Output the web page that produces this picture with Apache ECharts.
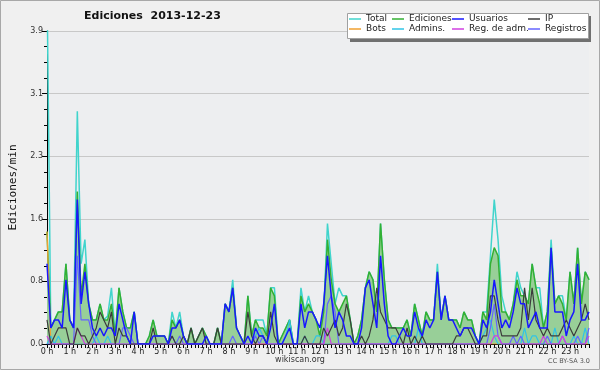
<!DOCTYPE html>
<html>
<head>
<meta charset="utf-8">
<script src="https://cdn.jsdelivr.net/npm/echarts@6/dist/echarts.min.js"></script>
<style>
  html, body { margin: 0; padding: 0; background: #f0f0f0; }
  #chart { width: 600px; height: 370px; }
</style>
</head>
<body>
<div id="chart"></div>
<script>
// one value every 10 minutes, edits per minute
const total = [
  4.5, 0.2, 0.3, 0.4, 0.4, 1.0, 0.3, 0.2, 2.9, 1.0, 1.3, 0.5,
  0.3, 0.3, 0.5, 0.3, 0.35, 0.7, 0.1, 0.7, 0.4, 0.2, 0.2, 0.4,
  0, 0, 0, 0.1, 0.3, 0.1, 0.1, 0.1, 0, 0.4, 0.2, 0.4,
  0.1, 0, 0.2, 0, 0.1, 0.2, 0.1, 0, 0, 0.2, 0, 0.5,
  0.4, 0.8, 0.2, 0.1, 0, 0.6, 0.1, 0.3, 0.3, 0.3, 0.1, 0.7,
  0.7, 0, 0.1, 0.2, 0.3, 0, 0, 0.7, 0.4, 0.6, 0.4, 0.3,
  0.1, 0.4, 1.5, 1.0, 0.5, 0.7, 0.6, 0.6, 0.3, 0, 0.1, 0.3,
  0.7, 0.9, 0.8, 0.4, 1.5, 0.8, 0.3, 0.2, 0.2, 0.2, 0.2, 0.3,
  0.1, 0.5, 0.3, 0.1, 0.4, 0.3, 0.3, 1.0, 0.3, 0.6, 0.3, 0.3,
  0.3, 0.2, 0.4, 0.3, 0.3, 0.1, 0, 0.4, 0.4, 1.1, 1.8, 1.3,
  0.6, 0.4, 0.3, 0.5, 0.9, 0.7, 0.6, 0.5, 1.0, 0.7, 0.7, 0.2,
  0.4, 1.3, 0.5, 0.6, 0.6, 0.3, 0.9, 0.5, 1.2, 0.5, 0.9, 0.8
];
const ediciones = [
  1.4, 0.2, 0.3, 0.4, 0.4, 1.0, 0.3, 0.2, 1.9, 0.6, 1.0, 0.5,
  0.3, 0.3, 0.5, 0.3, 0.3, 0.5, 0.1, 0.7, 0.4, 0.2, 0.2, 0.4,
  0, 0, 0, 0.1, 0.3, 0.1, 0.1, 0.1, 0, 0.3, 0.2, 0.3,
  0.1, 0, 0.2, 0, 0.1, 0.2, 0.1, 0, 0, 0.2, 0, 0.5,
  0.4, 0.7, 0.2, 0.1, 0, 0.6, 0.1, 0.3, 0.2, 0.2, 0.1, 0.7,
  0.6, 0, 0.1, 0.2, 0.3, 0, 0, 0.6, 0.4, 0.5, 0.4, 0.3,
  0.1, 0.4, 1.3, 0.8, 0.5, 0.4, 0.5, 0.6, 0.3, 0, 0.1, 0.3,
  0.7, 0.9, 0.8, 0.4, 1.5, 0.8, 0.3, 0.2, 0.2, 0.2, 0.2, 0.3,
  0.1, 0.5, 0.3, 0.1, 0.4, 0.3, 0.3, 0.9, 0.3, 0.6, 0.3, 0.3,
  0.3, 0.2, 0.4, 0.3, 0.3, 0.1, 0, 0.4, 0.3, 1.0, 1.2, 1.1,
  0.4, 0.4, 0.3, 0.5, 0.8, 0.6, 0.6, 0.5, 1.0, 0.7, 0.5, 0.2,
  0.4, 1.2, 0.5, 0.6, 0.5, 0.3, 0.9, 0.5, 1.2, 0.5, 0.9, 0.8
];
const usuarios = [
  1.0, 0.2, 0.3, 0.3, 0.2, 0.8, 0.3, 0.2, 1.8, 0.5, 0.9, 0.5,
  0.2, 0.1, 0.2, 0.1, 0.2, 0.2, 0.1, 0.5, 0.3, 0.1, 0, 0.4,
  0, 0, 0, 0, 0.1, 0.1, 0.1, 0.1, 0, 0.2, 0.2, 0.3,
  0.1, 0, 0, 0, 0, 0, 0.1, 0, 0, 0, 0, 0.5,
  0.4, 0.7, 0.2, 0.1, 0, 0.1, 0, 0.2, 0.1, 0.1, 0, 0.2,
  0.5, 0, 0, 0.1, 0.2, 0, 0, 0.5, 0.2, 0.4, 0.4, 0.3,
  0.2, 0.5, 1.1, 0.6, 0.2, 0.4, 0.3, 0.1, 0.1, 0, 0, 0.2,
  0.7, 0.8, 0.5, 0.2, 1.1, 0.5, 0.1, 0, 0, 0.1, 0.2, 0.1,
  0.1, 0.4, 0.2, 0.1, 0.3, 0.2, 0.3, 0.9, 0.3, 0.6, 0.3, 0.3,
  0.2, 0.1, 0.2, 0.2, 0.2, 0.1, 0, 0.3, 0.2, 0.4, 0.8, 0.5,
  0.2, 0.3, 0.2, 0.4, 0.7, 0.5, 0.5, 0.2, 0.3, 0.4, 0.2, 0.2,
  0.2, 1.2, 0.4, 0.4, 0.4, 0.1, 0.3, 0.4, 1.0, 0.3, 0.3, 0.4
];
const ip = [
  0.3, 0, 0.1, 0.2, 0.2, 0.2, 0, 0, 0.2, 0.1, 0.1, 0,
  0.1, 0.2, 0.4, 0.3, 0.2, 0.4, 0, 0.2, 0.1, 0.1, 0, 0,
  0, 0, 0, 0, 0.2, 0, 0, 0, 0, 0.1, 0, 0,
  0.1, 0, 0.2, 0, 0.1, 0.2, 0, 0, 0, 0.2, 0, 0,
  0, 0, 0, 0, 0, 0.4, 0.1, 0, 0.1, 0.1, 0, 0.4,
  0.1, 0, 0, 0, 0, 0, 0, 0, 0.1, 0, 0, 0,
  0, 0.2, 0.1, 0.2, 0.3, 0.1, 0.2, 0.5, 0.3, 0, 0, 0.1,
  0, 0.1, 0.3, 0.7, 0.4, 0.3, 0.2, 0.2, 0.2, 0.1, 0, 0.2,
  0, 0.1, 0, 0.1, 0, 0, 0, 0, 0, 0, 0, 0,
  0.1, 0.1, 0.2, 0.2, 0.1, 0, 0, 0.1, 0.1, 0.6, 0.6, 0.3,
  0.1, 0.1, 0.1, 0.1, 0.1, 0.2, 0.7, 0.3, 0.7, 0.3, 0.2, 0.1,
  0.2, 0.1, 0.1, 0.1, 0.2, 0.3, 0.2, 0.1, 0.2, 0.3, 0.5, 0.3
];
const bots = [
  1.4, 0, 0, 0, 0, 0, 0, 0, 0, 0, 0, 0,
  0, 0, 0, 0, 0, 0, 0, 0, 0, 0, 0, 0,
  0, 0, 0, 0, 0, 0, 0, 0, 0, 0, 0, 0,
  0, 0, 0, 0, 0, 0, 0, 0, 0, 0, 0, 0,
  0, 0, 0, 0, 0, 0, 0, 0, 0, 0, 0, 0,
  0, 0, 0, 0, 0, 0, 0, 0, 0, 0, 0, 0,
  0, 0, 0, 0, 0, 0, 0, 0, 0, 0, 0, 0,
  0, 0, 0, 0, 0, 0, 0, 0, 0, 0, 0, 0,
  0, 0, 0, 0, 0, 0, 0, 0, 0, 0, 0, 0,
  0, 0, 0, 0, 0, 0, 0, 0, 0, 0, 0, 0,
  0, 0, 0, 0, 0, 0, 0, 0, 0, 0, 0, 0,
  0, 0, 0, 0, 0, 0, 0, 0, 0, 0, 0, 0
];
const admins = [
  0, 0.1, 0, 0.1, 0, 0, 0, 0, 0, 0, 0, 0,
  0, 0.1, 0, 0, 0.1, 0, 0, 0, 0, 0, 0, 0,
  0, 0, 0, 0, 0, 0, 0, 0, 0, 0, 0, 0,
  0, 0, 0, 0, 0, 0, 0, 0, 0, 0, 0, 0,
  0, 0, 0, 0, 0, 0, 0, 0.1, 0.2, 0.1, 0, 0,
  0, 0, 0, 0.1, 0.3, 0, 0, 0, 0.1, 0, 0, 0.1,
  0.1, 0, 0, 0, 0, 0, 0, 0, 0, 0, 0, 0,
  0, 0, 0, 0, 0, 0, 0, 0.1, 0.1, 0, 0, 0,
  0, 0, 0.2, 0, 0, 0, 0, 0, 0, 0, 0, 0,
  0, 0, 0, 0, 0, 0, 0, 0.1, 0.2, 0.3, 0.1, 0,
  0, 0, 0, 0, 0, 0, 0.2, 0, 0.1, 0.1, 0, 0,
  0, 0, 0.2, 0, 0, 0, 0, 0.1, 0, 0, 0.2, 0
];
const regAdm = [
  0.1, 0, 0, 0, 0, 0, 0, 0, 0.2, 0.1, 0, 0,
  0, 0, 0, 0, 0, 0, 0, 0, 0, 0, 0, 0,
  0, 0, 0, 0, 0, 0, 0, 0, 0, 0, 0, 0,
  0, 0, 0, 0, 0, 0, 0, 0, 0, 0, 0, 0,
  0, 0, 0, 0, 0, 0, 0, 0, 0, 0, 0, 0,
  0, 0, 0, 0, 0, 0, 0, 0, 0, 0, 0, 0,
  0, 0, 0.2, 0, 0, 0, 0, 0, 0, 0, 0, 0,
  0, 0, 0, 0, 0, 0, 0, 0, 0, 0, 0, 0,
  0, 0, 0, 0, 0, 0, 0, 0, 0, 0, 0, 0,
  0, 0, 0, 0, 0, 0, 0, 0, 0, 0, 0.1, 0.1,
  0, 0, 0, 0, 0, 0, 0, 0, 0, 0, 0, 0.1,
  0, 0, 0, 0, 0.1, 0, 0, 0, 0, 0, 0, 0.1
];
const registros = [
  0, 0, 0, 0, 0, 0, 0, 0, 1.1, 0.3, 0.3, 0.3,
  0.1, 0, 0, 0, 0, 0, 0, 0, 0.2, 0.2, 0.1, 0,
  0, 0, 0, 0, 0, 0, 0, 0, 0, 0.1, 0, 0.1,
  0, 0, 0, 0, 0, 0, 0, 0, 0, 0, 0, 0,
  0, 0.1, 0, 0, 0, 0, 0, 0.1, 0, 0.1, 0, 0,
  0, 0, 0, 0, 0, 0, 0, 0, 0, 0, 0, 0,
  0, 0, 0.5, 0.6, 0.4, 0, 0, 0, 0, 0, 0, 0,
  0, 0, 0, 0, 0, 0, 0, 0, 0, 0, 0, 0,
  0, 0, 0, 0, 0, 0, 0, 0, 0, 0, 0, 0,
  0, 0, 0, 0, 0, 0, 0, 0, 0, 0.2, 0.5, 0.1,
  0, 0, 0, 0.1, 0, 0.1, 0, 0, 0, 0, 0, 0,
  0.1, 0, 0, 0, 0.1, 0, 0, 0, 0.1, 0, 0, 0.2
];

const yTicks = [0, 0.78, 1.56, 2.34, 3.12, 3.9];

// 10-minute slots, "H:MM"
const slots = [];
for (let h = 0; h < 24; h++) {
  for (let m = 0; m < 60; m += 10) slots.push(h + ':' + String(m).padStart(2, '0'));
}

const FONT = 'DejaVu Sans';

function line(name, data, color, width, z) {
  return {
    name, type: 'line', data, z,
    showSymbol: false, symbol: 'none',
    itemStyle: { color },
    lineStyle: { color, width },
    emphasis: { disabled: true },
  };
}

function legendCol(left, names) {
  return {
    left, top: 14, orient: 'vertical', padding: 0, itemGap: 0,
    itemWidth: 12, itemHeight: 1.5, icon: 'rect', z: 20,
    selectedMode: false,
    data: names,
    textStyle: { fontFamily: FONT, fontSize: 9, color: '#222', lineHeight: 10 },
  };
}

const chart = echarts.init(document.getElementById('chart'), null, { renderer: 'canvas' });
chart.setOption({
  animation: false,
  backgroundColor: '#f0f0f0',
  title: {
    text: 'Ediciones  2013-12-23', left: 84, top: 11, padding: 0,
    textStyle: { fontFamily: FONT, fontSize: 11, fontWeight: 'bold', color: '#111' },
  },
  legend: [
    legendCol(349, ['Total', 'Bots']),
    legendCol(392, ['Ediciones', 'Admins.']),
    legendCol(452, ['Usuarios', 'Reg. de adm.']),
    legendCol(528, ['IP', 'Registros']),
  ],
  grid: {
    left: 44, right: 11, top: 31, bottom: 26,
    show: true, backgroundColor: '#edeef0', borderWidth: 0,
  },
  xAxis: {
    type: 'category', data: slots, boundaryGap: false,
    axisLine: { lineStyle: { color: '#000', width: 1 } },
    axisTick: { interval: 0, length: 4, lineStyle: { color: '#000' } },
    axisLabel: {
      interval: 5, margin: 4, fontFamily: FONT, fontSize: 8, color: '#222',
      formatter: (v) => parseInt(v, 10) + ' h',
    },
    splitLine: { show: false },
  },
  yAxis: {
    type: 'value', min: yTicks[0], max: yTicks[yTicks.length - 1], interval: yTicks[1],
    name: 'Ediciones/min', nameLocation: 'middle', nameGap: 28, nameRotate: 90,
    nameTextStyle: { fontFamily: 'DejaVu Sans Mono', fontSize: 11, color: '#111' },
    axisLine: { show: true, lineStyle: { color: '#000', width: 1 } },
    axisTick: { show: true, length: 5, lineStyle: { color: '#000' } },
    minorTick: { show: true, splitNumber: 4, length: 3, lineStyle: { color: '#000' } },
    axisLabel: {
      margin: 4, fontFamily: FONT, fontSize: 8, color: '#333',
      formatter: (v) => v.toFixed(1),
    },
    splitLine: { lineStyle: { color: '#c8c8c8', width: 1 } },
  },
  graphic: [
    { type: 'rect', z: 0, shape: { x: 0.5, y: 0.5, width: 599, height: 369 },
      style: { fill: 'none', stroke: '#a8a8a8', lineWidth: 1 } },
    { type: 'rect', z: 5, shape: { x: 350, y: 16, width: 241, height: 26 },
      style: { fill: '#707070' } },
    { type: 'rect', z: 6, shape: { x: 347.5, y: 13.5, width: 241, height: 25 },
      style: { fill: '#ffffff', stroke: '#a0a0a0', lineWidth: 1 } },
    { type: 'text', z: 6, left: 'center', top: 356,
      style: { text: 'wikiscan.org', fontFamily: FONT, fontSize: 8, fill: '#333' } },
    { type: 'text', z: 6, right: 10, top: 358,
      style: { text: 'CC BY-SA 3.0', fontFamily: FONT, fontSize: 6.5, fill: '#555' } },
  ],
  series: [
    line('Total', total, '#40d4cc', 1.5, 2),
    Object.assign(line('Ediciones', ediciones, '#33b033', 1.5, 3), {
      areaStyle: { color: '#98cf98', opacity: 1 },
    }),
    line('Bots', bots, '#f0a030', 1.2, 4),
    line('Admins.', admins, '#30c4e6', 1.2, 5),
    line('Registros', registros, '#6464ff', 1.2, 6),
    line('Reg. de adm.', regAdm, '#d040e0', 1.2, 7),
    line('IP', ip, '#3c3c3c', 1.2, 8),
    line('Usuarios', usuarios, '#1818ff', 1.5, 9),
  ],
});
</script>
</body>
</html>
